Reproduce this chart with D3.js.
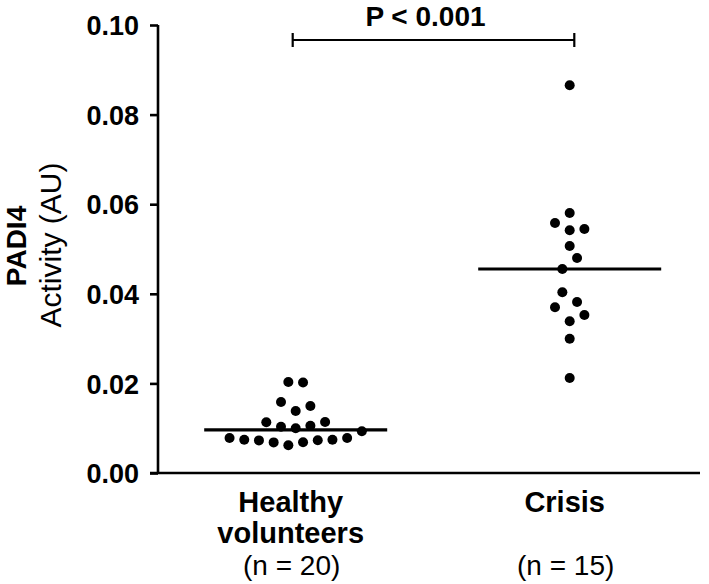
<!DOCTYPE html>
<html>
<head>
<meta charset="utf-8">
<script src="https://cdn.jsdelivr.net/npm/d3@7/dist/d3.min.js"></script>
<style>
  html, body { margin: 0; padding: 0; background: #fff; }
  svg { display: block; font-family: "Liberation Sans", Arial, Helvetica, sans-serif; }
</style>
</head>
<body>
<svg id="chart" width="709" height="584"></svg>
<script>
// ---- Data ----
const categories = ["Healthy volunteers", "Crisis"];
const categoryLines = [["Healthy", "volunteers"], ["Crisis"]];
const sampleLabels = ["(n = 20)", "(n = 15)"];
const healthyValues = [
  0.00618, 0.00685, 0.00683, 0.0073, 0.00728, 0.00743, 0.00741, 0.00781, 0.00783, 0.0093,
  0.00998, 0.01056, 0.01033, 0.01138, 0.01132,
  0.01384, 0.01496, 0.01585,
  0.0203, 0.0202
];
const crisisValues = [
  0.02121, 0.02998,
  0.03386, 0.03527, 0.03699,
  0.04033, 0.03817,
  0.04554, 0.04799,
  0.05067,
  0.05417, 0.05446, 0.05580,
  0.05804, 0.08654
];
const yTicks = [0, 0.02, 0.04, 0.06, 0.08, 0.10];
const yTitle = "PADI4";
const ySubTitle = "Activity (AU)";
const pLabel = "P < 0.001";

// ---- Layout ----
const svg = d3.select("#chart");
const axisX = 158, axisTop = 25, axisBottom = 473;
const y = d3.scaleLinear().domain([0, 0.10]).range([axisBottom, axisTop]);
const x = d3.scalePoint().domain(categories).range([295.7, 569.7]);
const dotR = 5, spacing = 14.7, groupThresh = 14.8, medianHalf = 91.5;

// beeswarm-like arrangement: group points whose pixel heights are within a dot spacing
function arrange(values, cx) {
  const idx = d3.range(values.length).sort((a, b) => values[a] - values[b] || a - b);
  const out = new Array(values.length);
  let i = 0;
  while (i < idx.length) {
    const startY = y(values[idx[i]]);
    const group = [idx[i]];
    let j = i + 1;
    while (j < idx.length && startY - y(values[idx[j]]) < groupThresh) { group.push(idx[j]); j++; }
    group.sort((a, b) => a - b);
    const n = group.length;
    const c = Math.floor((n - 1) / 2);
    const seq = [c];
    let l = c - 1, r = c + 1, right = true;
    while (seq.length < n) {
      if (right && r < n) { seq.push(r++); }
      else if (!right && l >= 0) { seq.push(l--); }
      else if (r < n) { seq.push(r++); }
      else { seq.push(l--); }
      right = !right;
    }
    group.forEach((p, k) => {
      out[p] = { v: values[p], x: cx + (seq[k] - (n - 1) / 2) * spacing, y: y(values[p]) };
    });
    i = j;
  }
  return out;
}

// axes
const yAxis = d3.axisLeft(y).tickValues(yTicks).tickFormat(d3.format(".2f")).tickSize(8).tickPadding(11);
const gy = svg.append("g").attr("transform", `translate(${axisX},0)`).call(yAxis);
gy.select(".domain").attr("d", `M0,${axisTop}V${axisBottom}`).attr("stroke", "#000").attr("stroke-width", 2.6);
gy.selectAll(".tick line").attr("stroke", "#000").attr("stroke-width", 2.6);
gy.selectAll(".tick text").attr("font-size", 27).attr("font-weight", "bold")
  .attr("font-family", "Liberation Sans, Arial, sans-serif").attr("fill", "#000").attr("dy", "0.36em");

const xAxis = d3.axisBottom(x).tickSize(0).tickFormat("");
const gx = svg.append("g").attr("transform", `translate(0,${axisBottom})`).call(xAxis);
gx.select(".domain").attr("d", `M${axisX - 8},0H700`).attr("stroke", "#000").attr("stroke-width", 2.6);

// x category labels
categories.forEach((c, i) => {
  const t = svg.append("text").attr("x", x(c)).attr("text-anchor", "middle")
    .attr("font-size", 29).attr("font-weight", "bold").attr("fill", "#000");
  categoryLines[i].forEach((ln, k) => {
    t.append("tspan").attr("x", x(c) - 5).attr("y", 512 + k * 31).text(ln);
  });
  svg.append("text").attr("x", x(c) - 4).attr("y", 575).attr("text-anchor", "middle")
    .attr("font-size", 28).attr("fill", "#000").text(sampleLabels[i]);
});

// y titles
svg.append("text").attr("transform", "translate(25.5,246) rotate(-90)").attr("text-anchor", "middle")
  .attr("font-size", 28).attr("font-weight", "bold").attr("fill", "#000").text(yTitle);
svg.append("text").attr("transform", "translate(61,245) rotate(-90)").attr("text-anchor", "middle")
  .attr("font-size", 30).attr("fill", "#000").text(ySubTitle);

// points and medians
const series = [healthyValues, crisisValues];
series.forEach((vals, i) => {
  const cx = x(categories[i]);
  const pts = arrange(vals, cx);
  const med = d3.median(vals);
  svg.append("line").attr("x1", cx - medianHalf).attr("x2", cx + medianHalf)
    .attr("y1", y(med)).attr("y2", y(med)).attr("stroke", "#000").attr("stroke-width", 3.2);
  svg.append("g").selectAll("circle").data(pts).join("circle")
    .attr("cx", d => d.x).attr("cy", d => d.y).attr("r", dotR).attr("fill", "#000");
});

// significance bracket
const bx1 = x(categories[0]) - 3, bx2 = x(categories[1]) + 4.6, by = 40;
svg.append("path").attr("d", `M${bx1},${by - 7}V${by + 7}M${bx1},${by}H${bx2}M${bx2},${by - 7}V${by + 7}`)
  .attr("fill", "none").attr("stroke", "#000").attr("stroke-width", 2.2);
svg.append("text").attr("x", (bx1 + bx2) / 2 - 8).attr("y", 25.5).attr("text-anchor", "middle")
  .attr("font-size", 28).attr("font-weight", "bold").attr("fill", "#000").text(pLabel);
</script>
</body>
</html>
